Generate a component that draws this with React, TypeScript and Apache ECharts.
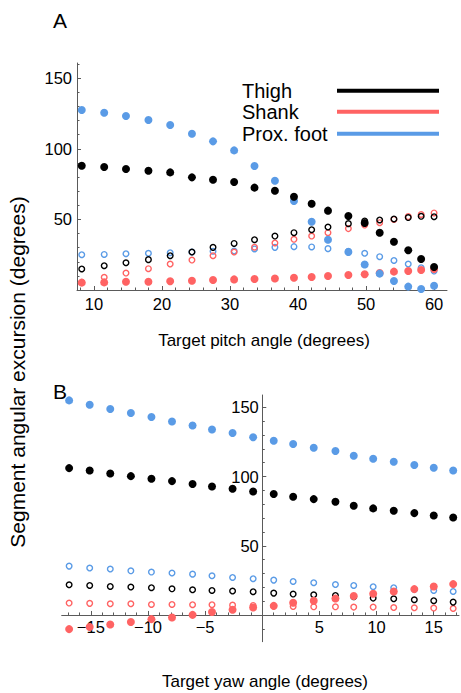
import React, { useEffect, useRef } from 'react';
import * as echarts from 'echarts';

// ---------- Panel A: target pitch angle ----------
const pitchAngles = [8.2, 11.5, 14.7, 18.0, 21.2, 24.4, 27.5, 30.6, 33.6, 36.6, 39.4, 42.0, 44.4, 47.4, 49.8, 52.0, 54.1, 56.2, 58.1, 60.0];
const pitchThighFilled = [88.0, 87.1, 85.7, 84.5, 83.3, 79.8, 78.1, 76.5, 72.5, 70.3, 66.1, 61.1, 56.2, 52.4, 47.5, 40.6, 34.2, 28.1, 22.0, 16.3];
const pitchThighOpen = [14.9, 17.2, 19.3, 21.5, 24.3, 26.9, 30.2, 33.0, 35.6, 38.2, 40.6, 42.7, 44.6, 47.0, 48.9, 49.6, 50.3, 51.3, 52.2, 51.9];
const pitchShankFilled = [5.2, 5.4, 5.9, 5.9, 6.2, 6.5, 7.1, 7.5, 7.8, 8.2, 8.7, 9.2, 9.9, 10.6, 11.2, 12.0, 13.0, 13.5, 14.2, 14.8];
const pitchShankOpen = [5.4, 9.0, 12.0, 15.1, 18.4, 21.2, 24.3, 26.9, 30.3, 33.3, 35.9, 38.2, 40.6, 43.5, 46.0, 47.7, 50.0, 52.0, 53.5, 54.6];
const pitchFootFilled = [127.5, 125.6, 123.2, 120.4, 116.9, 110.7, 105.3, 98.9, 87.8, 77.4, 63.0, 48.4, 35.6, 26.9, 18.1, 11.6, 6.4, 2.4, 0.7, 3.0];
const pitchFootOpen = [25.0, 25.2, 25.7, 26.0, 26.4, 26.9, 27.4, 27.6, 29.1, 30.2, 30.7, 30.5, 29.3, 27.5, 26.0, 23.6, 20.9, 18.4, 15.8, 13.4];
const pitchTicks = [10, 20, 30, 40, 50, 60];
const excursionTicks = [50, 100, 150];

// ---------- Panel B: target yaw angle ----------
const yawAngles = [-16.9, -15.1, -13.3, -11.5, -9.7, -7.9, -6.1, -4.4, -2.6, -0.8, 1.0, 2.7, 4.5, 6.4, 8.0, 9.7, 11.5, 13.3, 15.0, 16.7];
const yawThighFilled = [106.1, 104.4, 102.2, 100.3, 98.4, 96.7, 94.6, 92.8, 91.2, 89.2, 87.4, 85.4, 83.7, 81.8, 78.9, 77.0, 75.3, 73.6, 71.9, 70.4];
const yawThighOpen = [21.8, 21.3, 20.6, 20.2, 19.7, 18.9, 18.2, 17.7, 17.3, 16.8, 15.8, 15.1, 14.6, 14.1, 13.2, 12.2, 11.7, 11.0, 10.3, 9.3];
const yawShankFilled = [-10.2, -8.7, -6.9, -5.1, -3.0, -1.8, 0.1, 2.1, 3.8, 5.4, 6.6, 8.8, 10.3, 11.9, 13.7, 15.3, 17.0, 18.7, 20.6, 22.3];
const yawShankOpen = [8.6, 8.4, 8.1, 8.1, 7.6, 7.6, 7.4, 7.4, 7.1, 6.9, 6.4, 6.1, 5.9, 5.9, 5.7, 5.7, 5.4, 5.2, 5.0, 4.7];
const yawFootFilled = [155.0, 151.9, 148.8, 145.9, 143.0, 139.8, 136.9, 134.0, 131.4, 128.4, 125.9, 123.5, 120.8, 118.4, 115.0, 112.9, 110.7, 108.3, 106.4, 104.4];
const yawFootOpen = [35.3, 33.9, 33.2, 31.9, 31.0, 30.3, 29.5, 28.3, 27.1, 26.2, 25.2, 24.2, 23.3, 22.0, 21.3, 20.4, 19.7, 18.4, 17.7, 17.0];
const yawTicks = [-15, -10, -5, 5, 10, 15];

const segmentNames = ['Thigh', 'Shank', 'Prox. foot'];
const BLACK = '#000000';
const RED = '#ff6363';
const BLUE = '#5a9be6';
const segmentColors = [BLACK, RED, BLUE];
const FONT = '"Liberation Sans", Arial, Helvetica, sans-serif';
const AXIS_COLOR = '#5a5a5a';

// panel B extents
const YAW_MIN = -17.55;
const YAW_MAX = 17.21;
const EXC_B_MIN = -19.3;
const EXC_B_MAX = 158.9;
const GRID_B = { left: 61.7, top: 395, width: 397.3, height: 246.7 };
// shift the crossing axes onto the zero lines
const yAxisBOffset = -(GRID_B.width * (0 - YAW_MIN)) / (YAW_MAX - YAW_MIN);
const xAxisBOffset = -(GRID_B.height * (0 - EXC_B_MIN)) / (EXC_B_MAX - EXC_B_MIN);

const pairs = (xs: number[], ys: number[]) => xs.map((x, i) => [x, ys[i]]);

const filled = (data: number[][], color: string, gi: number, name: string) => ({
  type: 'scatter',
  name,
  xAxisIndex: gi,
  yAxisIndex: gi,
  data,
  symbol: 'circle',
  symbolSize: 8,
  itemStyle: { color, opacity: 1 },
  z: 3,
});

const open = (data: number[][], color: string, gi: number, name: string) => ({
  type: 'scatter',
  name,
  xAxisIndex: gi,
  yAxisIndex: gi,
  data,
  symbol: 'circle',
  symbolSize: 5.6,
  itemStyle: { color: 'rgba(255,255,255,0)', borderColor: color, borderWidth: 1.4, opacity: 1 },
  z: 2,
});

const minus = (v: number) => String(v).replace('-', '\u2212');

const axisCommon = {
  axisLine: { show: true, onZero: false, lineStyle: { color: AXIS_COLOR, width: 1 } },
  axisTick: { show: true, inside: true, length: 4, lineStyle: { color: AXIS_COLOR, width: 1 } },
  minorTick: { show: true, splitNumber: 5, length: 2.5, lineStyle: { color: AXIS_COLOR, width: 1 } },
  splitLine: { show: false },
  minorSplitLine: { show: false },
};

const labelStyle = { color: '#000', fontSize: 16.5, fontFamily: FONT };

export default function App() {
  const ref = useRef<HTMLDivElement>(null);
  useEffect(() => {
    if (!ref.current) return;
    const chart = echarts.init(ref.current, null, { renderer: 'svg' });
    const option: any = {
      animation: false,
      backgroundColor: '#ffffff',
      grid: [
        { left: 77, top: 63, width: 370, height: 227, containLabel: false },
        { ...GRID_B, containLabel: false },
      ],
      xAxis: [
        {
          gridIndex: 0,
          type: 'value',
          position: 'bottom',
          min: 7.5,
          max: 61.9,
          splitNumber: 5,
          ...axisCommon,
          axisTick: { ...axisCommon.axisTick, customValues: pitchTicks },
          axisLabel: { ...labelStyle, margin: 5, customValues: pitchTicks, formatter: minus },
        },
        {
          gridIndex: 1,
          type: 'value',
          position: 'bottom',
          offset: xAxisBOffset,
          min: YAW_MIN,
          max: YAW_MAX,
          splitNumber: 7,
          ...axisCommon,
          axisTick: { ...axisCommon.axisTick, customValues: yawTicks },
          axisLabel: { ...labelStyle, margin: 4, customValues: yawTicks, formatter: minus },
        },
      ],
      yAxis: [
        {
          gridIndex: 0,
          type: 'value',
          position: 'left',
          min: 0,
          max: 160.8,
          interval: 50,
          ...axisCommon,
          axisTick: { ...axisCommon.axisTick, customValues: excursionTicks },
          axisLabel: { ...labelStyle, margin: 5, customValues: excursionTicks, formatter: minus },
        },
        {
          gridIndex: 1,
          type: 'value',
          position: 'left',
          offset: yAxisBOffset,
          min: EXC_B_MIN,
          max: EXC_B_MAX,
          splitNumber: 4,
          ...axisCommon,
          axisTick: { ...axisCommon.axisTick, customValues: excursionTicks },
          axisLabel: { ...labelStyle, margin: 3.5, customValues: excursionTicks, formatter: minus },
        },
      ],
      series: [
        open(pairs(pitchAngles, pitchFootOpen), BLUE, 0, 'Prox. foot open'),
        open(pairs(pitchAngles, pitchShankOpen), RED, 0, 'Shank open'),
        open(pairs(pitchAngles, pitchThighOpen), BLACK, 0, 'Thigh open'),
        filled(pairs(pitchAngles, pitchShankFilled), RED, 0, segmentNames[1]),
        filled(pairs(pitchAngles, pitchFootFilled), BLUE, 0, segmentNames[2]),
        filled(pairs(pitchAngles, pitchThighFilled), BLACK, 0, segmentNames[0]),
        open(pairs(yawAngles, yawFootOpen), BLUE, 1, 'Prox. foot open (yaw)'),
        open(pairs(yawAngles, yawShankOpen), RED, 1, 'Shank open (yaw)'),
        open(pairs(yawAngles, yawThighOpen), BLACK, 1, 'Thigh open (yaw)'),
        filled(pairs(yawAngles, yawShankFilled), RED, 1, 'Shank (yaw)'),
        filled(pairs(yawAngles, yawFootFilled), BLUE, 1, 'Prox. foot (yaw)'),
        filled(pairs(yawAngles, yawThighFilled), BLACK, 1, 'Thigh (yaw)'),
      ],
      graphic: [
        { type: 'text', x: 60, y: 20, style: { text: 'A', fontSize: 21, fontFamily: FONT, fill: '#000', align: 'center', verticalAlign: 'middle' } },
        { type: 'text', x: 60, y: 391, style: { text: 'B', fontSize: 21, fontFamily: FONT, fill: '#000', align: 'center', verticalAlign: 'middle' } },
        {
          type: 'text', x: 17, y: 372, rotation: Math.PI / 2,
          style: { text: 'Segment angular excursion (degrees)', fontSize: 21, fontFamily: FONT, fill: '#000', align: 'center', verticalAlign: 'middle' },
        },
        { type: 'text', x: 264, y: 340, style: { text: 'Target pitch angle (degrees)', fontSize: 17, fontFamily: FONT, fill: '#000', align: 'center', verticalAlign: 'middle' } },
        { type: 'text', x: 265, y: 681, style: { text: 'Target yaw angle (degrees)', fontSize: 17, fontFamily: FONT, fill: '#000', align: 'center', verticalAlign: 'middle' } },
        ...segmentNames.flatMap((name, i) => {
          const y = [91, 112, 134][i];
          return [
            { type: 'text', x: 242, y, style: { text: name, fontSize: 20, fontFamily: FONT, fill: '#000', align: 'left', verticalAlign: 'middle' } },
            { type: 'line', shape: { x1: 337, y1: y - 0.3, x2: 439, y2: y - 0.3 }, style: { stroke: segmentColors[i], lineWidth: 4 } },
          ];
        }),
      ],
    };
    chart.setOption(option);
    return () => chart.dispose();
  }, []);
  return (
    <div
      ref={ref}
      style={{ position: 'fixed', left: 0, top: 0, width: 461, height: 693, background: '#fff' }}
    />
  );
}
